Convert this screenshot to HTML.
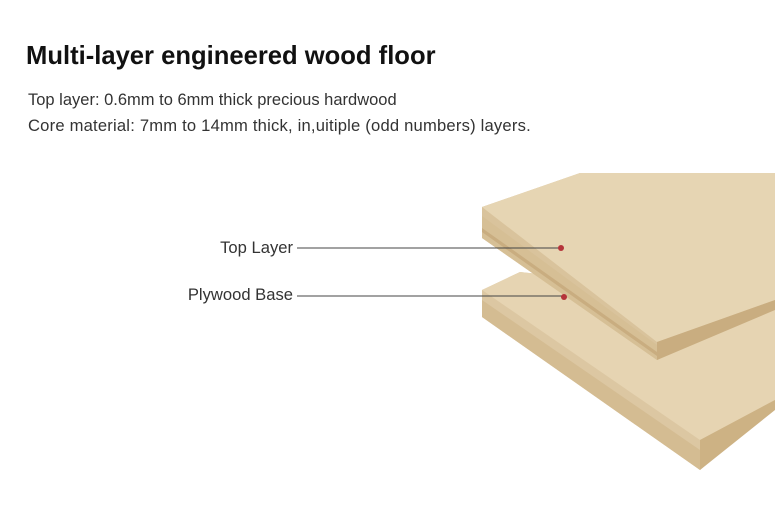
<!DOCTYPE html>
<html><head><meta charset="utf-8"><style>
body{margin:0;width:775px;height:520px;background:#fff;overflow:hidden;position:relative;font-family:"Liberation Sans",Arial,sans-serif}
.t{position:absolute;white-space:nowrap}
</style></head><body>
<div class="t" style="left:26px;top:42px;font-size:25.6px;font-weight:bold;color:#111">Multi-layer engineered wood floor</div>
<div class="t" style="left:28px;top:91px;font-size:16.5px;color:#333">Top layer: 0.6mm to 6mm thick precious hardwood</div>
<div class="t" style="left:28px;top:116px;font-size:16.6px;letter-spacing:0.2px;color:#333">Core material: 7mm to 14mm thick, in,uitiple (odd numbers) layers.</div>
<div class="t" style="right:482px;top:238px;font-size:16.6px;color:#333">Top Layer</div>
<div class="t" style="right:482px;top:285px;font-size:16.6px;color:#333">Plywood Base</div>
<svg width="775" height="520" style="position:absolute;left:0;top:0">
<polygon points="482,290 520,272 775,300 775,405 700,470 482,317" fill="#dcc7a2"/>
<polygon points="482,290 520,272 775,300 775,400 700,440" fill="#e6d4b2"/>
<polygon points="482,300 700,450 700,470 482,317" fill="#d4bc92"/>
<polygon points="700,440 775,400 775,410 700,470" fill="#cdb284"/>
<polygon points="482,207 580,173 775,173 775,305 657,360 482,238" fill="#d9c39c"/>
<polygon points="482,207 580,173 775,173 775,300 657,342" fill="#e6d5b3"/>
<polygon points="482,216 657,345 657,360 482,238" fill="#d6bf95"/>
<polygon points="482,228 657,352 657,356 482,232" fill="#c9ad80"/>
<polygon points="657,342 775,300 775,310 657,360" fill="#c9ad80"/>
<line x1="297" y1="248" x2="561" y2="248" stroke="#444" stroke-width="1"/>
<line x1="297" y1="296" x2="564" y2="296" stroke="#444" stroke-width="1"/>
<circle cx="561" cy="248" r="3" fill="#b5343a"/>
<circle cx="564" cy="297" r="3" fill="#b5343a"/>
</svg>
</body></html>
